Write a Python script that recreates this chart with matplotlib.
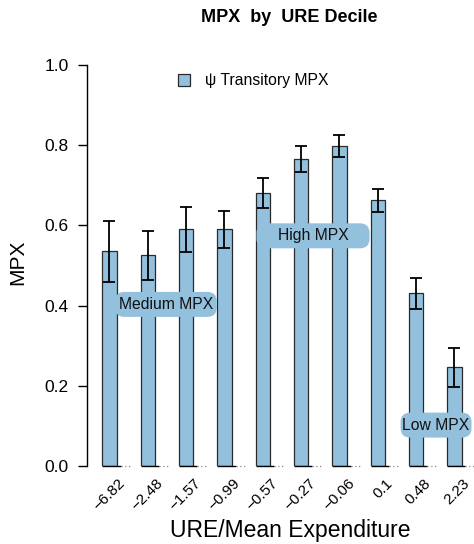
import matplotlib
matplotlib.use("Agg")
import matplotlib.pyplot as plt
from matplotlib.patches import FancyBboxPatch
import numpy as np

plt.rcParams['font.family'] = ['Liberation Sans', 'DejaVu Sans']

# ---- data ----
categories = ["\u22126.82", "\u22122.48", "\u22121.57", "\u22120.99", "\u22120.57",
              "\u22120.27", "\u22120.06", "0.1", "0.48", "2.23"]
mpx = [0.535, 0.525, 0.590, 0.590, 0.680, 0.766, 0.798, 0.663, 0.431, 0.246]
err = [0.077, 0.060, 0.056, 0.047, 0.037, 0.033, 0.027, 0.029, 0.039, 0.049]
series_label = "\u03c8 Transitory MPX"
groups = ["Medium MPX", "High MPX", "Low MPX"]
group_x = [1.47, 5.31, 8.52]
group_y = [0.403, 0.574, 0.102]
group_w = [2.66, 2.95, 1.85]

bar_color = "#92c0dd"

W, H = 474, 544
fig = plt.figure(figsize=(W / 100, H / 100), dpi=100)
ax = fig.add_axes([87 / W, (H - 466) / H, (W - 87) / W, 401 / H])

x = np.arange(len(categories))
bw = 0.376
ax.bar(x, mpx, width=bw, color=bar_color, edgecolor="#2a2a2a", linewidth=0.9,
       label=series_label, zorder=2)
ax.errorbar(x, mpx, yerr=err, fmt="none", ecolor="black", elinewidth=1.3,
            capsize=4.3, capthick=1.3, zorder=3)

# baseline segments under each group
for xi in x:
    ax.plot([xi - bw / 2, xi + bw / 2 + 0.1], [0, 0], color="black", lw=1.0,
            zorder=4, clip_on=False, solid_capstyle="butt")
    ax.plot([xi + bw / 2 + 0.1, xi + bw / 2 + bw], [0, 0], color="#888888",
            lw=0.9, ls=(0, (1, 2)), zorder=4, clip_on=False)

ax.set_xlim(-0.587, 9.51)
ax.set_ylim(0, 1.0)

# annotation boxes
hpx = 25 / 401
aspect = (1 / 401) / (1 / 38.33)
for name, gx, gy, gw in zip(groups, group_x, group_y, group_w):
    p = FancyBboxPatch((gx - gw / 2, gy - hpx / 2), gw, hpx,
                       boxstyle="round,pad=0,rounding_size=0.25",
                       mutation_aspect=aspect, facecolor=bar_color,
                       edgecolor="none", zorder=5, clip_on=False)
    ax.add_patch(p)
    ax.text(gx, gy, name, ha="center", va="center", fontsize=11.3,
            color="#111111", zorder=6)

# axes styling
for s in ["top", "right", "bottom"]:
    ax.spines[s].set_visible(False)
ax.spines["left"].set_bounds(0, 1)
ax.spines["left"].set_linewidth(1.0)
ax.set_yticks([0, 0.2, 0.4, 0.6, 0.8, 1.0])
ax.set_yticklabels(["0.0", "0.2", "0.4", "0.6", "0.8", "1.0"])
ax.tick_params(axis="y", length=6.5, width=1.0, pad=6.5, labelsize=12.5)
ax.set_xticks([])

for xi, lab in zip(x, categories):
    ax.text(xi + 0.46, -0.025, lab, rotation=45, ha="right", va="top",
            fontsize=11, clip_on=False)

fig.text(17.5 / W, 1 - 262 / H, "MPX", rotation=90, ha="center", va="center",
         fontsize=15)
fig.text(290 / W, 1 - 530 / H, "URE/Mean Expenditure", ha="center",
         va="center", fontsize=16.5)
fig.text(289 / W, 1 - 18 / H, "MPX  by  URE Decile", ha="center", va="center",
         fontsize=13, fontweight="bold")

leg = ax.legend(loc="center left", bbox_to_anchor=(178 / W, 1 - 81 / H),
                bbox_transform=fig.transFigure, frameon=False, fontsize=11.3,
                handlelength=0.75, handleheight=0.75, handletextpad=0.95,
                borderpad=0, borderaxespad=0)
for h in leg.legend_handles:
    h.set_edgecolor("#2a2a2a")
    h.set_linewidth(0.9)

fig.savefig("out.png", dpi=100)
